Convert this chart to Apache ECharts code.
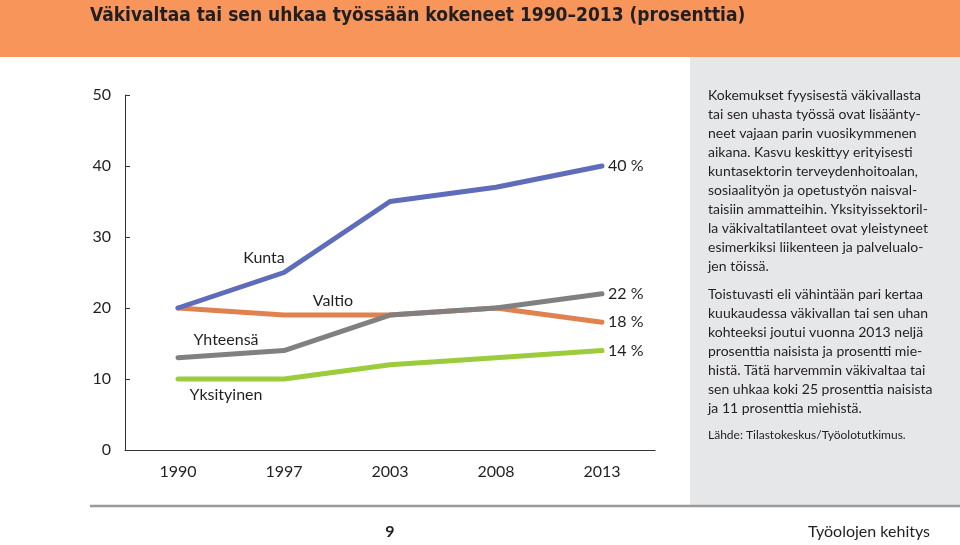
<!DOCTYPE html>
<html>
<head>
<meta charset="utf-8">
<script src="https://cdn.jsdelivr.net/npm/echarts@6/dist/echarts.min.js"></script>
<style>
html,body{margin:0;padding:0;background:#fff;}
#chart{width:960px;height:545px;}
</style>
</head>
<body>
<div id="chart"></div>
<script>
const years = ['1990', '1997', '2003', '2008', '2013'];
const kunta = [20, 25, 35, 37, 40];
const valtio = [20, 19, 19, 20, 18];
const yhteensa = [13, 14, 19, 20, 22];
const yksityinen = [10, 10, 12, 13, 14];
const yTicks = [0, 10, 20, 30, 40, 50];

const titleText = 'Väkivaltaa tai sen uhkaa työssään kokeneet 1990–2013 (prosenttia)';
const para1 = [
  'Kokemukset fyysisestä väkivallasta',
  'tai sen uhasta työssä ovat lisäänty-',
  'neet vajaan parin vuosikymmenen',
  'aikana. Kasvu keskittyy erityisesti',
  'kuntasektorin terveydenhoitoalan,',
  'sosiaalityön ja opetustyön naisval-',
  'taisiin ammatteihin. Yksityissektoril-',
  'la väkivaltatilanteet ovat yleistyneet',
  'esimerkiksi liikenteen ja palvelualo-',
  'jen töissä.'
];
const para2 = [
  'Toistuvasti eli vähintään pari kertaa',
  'kuukaudessa väkivallan tai sen uhan',
  'kohteeksi joutui vuonna 2013 neljä',
  'prosenttia naisista ja prosentti mie-',
  'histä. Tätä harvemmin väkivaltaa tai',
  'sen uhkaa koki 25 prosenttia naisista',
  'ja 11 prosenttia miehistä.'
];
const sourceText = 'Lähde: Tilastokeskus/Työolotutkimus.';
const pageNo = '9';
const footerText = 'Työolojen kehitys';

const FONT = 'Lato, "Open Sans", sans-serif';
const chart = echarts.init(document.getElementById('chart'), null, {renderer: 'canvas'});

function lineSeries(name, data, color, z) {
  return {
    name: name, type: 'line', data: data, z: z,
    symbol: 'none', smooth: false,
    lineStyle: {width: 5, color: color, cap: 'round', join: 'round'},
    itemStyle: {color: color},
    endLabel: {show: true, formatter: '{c} %', distance: 6, fontSize: 16, color: '#231F20', fontFamily: FONT},
    emphasis: {disabled: true}
  };
}

chart.setOption({
  animation: false,
  backgroundColor: '#fff',
  grid: {left: 125, right: 305, top: 95, bottom: 95},
  xAxis: {
    type: 'category', data: years, boundaryGap: true,
    axisLine: {lineStyle: {color: '#333', width: 1}},
    axisTick: {inside: true, length: 5, lineStyle: {color: '#333'}},
    axisLabel: {fontSize: 16, color: '#231F20', margin: 14, fontFamily: FONT}
  },
  yAxis: {
    type: 'value', min: yTicks[0], max: yTicks[yTicks.length - 1], interval: 10,
    axisLine: {show: true, lineStyle: {color: '#333', width: 1}},
    axisTick: {show: true, inside: true, length: 5, lineStyle: {color: '#333'}},
    splitLine: {show: false},
    axisLabel: {fontSize: 16, color: '#231F20', margin: 14, fontFamily: FONT}
  },
  series: [
    lineSeries('Valtio', valtio, '#E08250', 2),
    lineSeries('Yksityinen', yksityinen, '#9CCB3C', 3),
    lineSeries('Yhteensä', yhteensa, '#808080', 4),
    lineSeries('Kunta', kunta, '#5F6CBA', 5)
  ],
  graphic: [
    {type: 'rect', shape: {x: 0, y: 0, width: 960, height: 57}, style: {fill: '#F7955A'}, z: -10, silent: true},
    {type: 'rect', shape: {x: 690, y: 57, width: 270, height: 449}, style: {fill: '#E6E7E8'}, z: -10, silent: true},
    {type: 'line', shape: {x1: 90, y1: 506, x2: 960, y2: 506}, style: {stroke: '#9A9A9A', lineWidth: 2.5}, silent: true},
    {type: 'text', x: 90, y: 16, style: {text: titleText, font: 'bold 19px "Liberation Sans Narrow", "DejaVu Sans Condensed", sans-serif', fill: '#231F20', textVerticalAlign: 'middle'}, silent: true},
    {type: 'text', x: 264, y: 258, style: {text: 'Kunta', font: '16px ' + FONT, fill: '#231F20', textAlign: 'center', textVerticalAlign: 'middle'}, silent: true},
    {type: 'text', x: 333, y: 301, style: {text: 'Valtio', font: '16px ' + FONT, fill: '#231F20', textAlign: 'center', textVerticalAlign: 'middle'}, silent: true},
    {type: 'text', x: 226, y: 340, style: {text: 'Yhteensä', font: '16px ' + FONT, fill: '#231F20', textAlign: 'center', textVerticalAlign: 'middle'}, silent: true},
    {type: 'text', x: 226, y: 395, style: {text: 'Yksityinen', font: '16px ' + FONT, fill: '#231F20', textAlign: 'center', textVerticalAlign: 'middle'}, silent: true},
    {type: 'text', x: 708, y: 85.5, style: {text: para1.join('\n'), font: '14px ' + FONT, lineHeight: 19, fill: '#231F20'}, silent: true},
    {type: 'text', x: 708, y: 284.5, style: {text: para2.join('\n'), font: '14px ' + FONT, lineHeight: 19, fill: '#231F20'}, silent: true},
    {type: 'text', x: 708, y: 435, style: {text: sourceText, font: '12px "Liberation Sans Narrow", ' + FONT, fill: '#231F20', textVerticalAlign: 'middle'}, silent: true},
    {type: 'text', x: 390, y: 532, style: {text: pageNo, font: 'bold 16px ' + FONT, fill: '#231F20', textAlign: 'center', textVerticalAlign: 'middle'}, silent: true},
    {type: 'text', x: 930, y: 532, style: {text: footerText, font: '16px ' + FONT, fill: '#231F20', textAlign: 'right', textVerticalAlign: 'middle'}, silent: true}
  ]
});
</script>
</body>
</html>
